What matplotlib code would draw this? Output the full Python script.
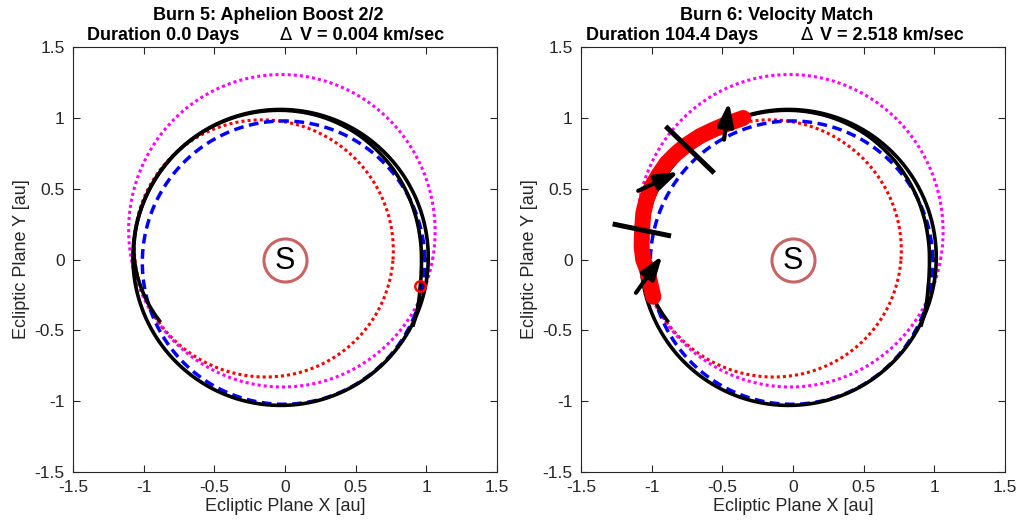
import numpy as np
import matplotlib
matplotlib.use("Agg")
import matplotlib.pyplot as plt

plt.rcParams['font.family'] = ['Liberation Sans', 'DejaVu Sans']

# ---------------- data ----------------
# Keplerian orbits (focus at Sun): semi-major axis a [au], eccentricity e, periapsis direction w [deg]
orbit_names = ['red', 'magenta', 'blue', 'black']
orbit_a = [0.92, 1.103, 1.0, 1.045]
orbit_e = [0.184, 0.185, 0.024, 0.033]
orbit_w = [-27.5, -83.8, 65.6, -25.0]
orbit_colors = ['#FF0000', '#FF00FF', '#0000FF', '#000000']

# spacecraft trajectory arc: radial offset [au] from the black orbit at listed angles [deg]
traj_ang = [-27, -20, -12, -5, 0, 10, 20, 30, 40, 50, 60, 75, 90, 110, 130, 150, 165, 175, 180, 185, 190, 195, 200, 206]
traj_dr = [0.008, -0.012, -0.035, -0.045, -0.048, -0.048, -0.045, -0.040, -0.033, -0.026, -0.018, -0.010,
           -0.006, -0.003, -0.001, 0.0, 0.0, -0.004, -0.010, -0.020, -0.032, -0.046, -0.060, -0.078]

# burn 5 marker
burn5_x, burn5_y = 0.955, -0.188

# burn 6 thrust arc
thrust_x = [-0.988, -1.03, -1.060, -1.071, -1.068, -1.059, -1.035, -1.0, -0.950, -0.894, -0.825, -0.752, -0.66, -0.564, -0.46, -0.352]
thrust_y = [-0.263, -0.08, 0.0, 0.09, 0.21, 0.327, 0.425, 0.515, 0.600, 0.681, 0.75, 0.81, 0.87, 0.916, 0.96, 0.999]

# black bars (start/end markers): x0, y0, x1, y1
bars = [(-1.276, 0.251, -0.863, 0.166), (-0.901, 0.94, -0.557, 0.61)]
# thrust direction arrows: tail x, tail y, tip x, tip y
arrows = [(-1.111, -0.235, -0.925, 0.027), (-1.095, 0.485, -0.807, 0.619), (-0.488, 0.846, -0.453, 1.11)]

titles1 = ['Burn 5: Aphelion Boost 2/2', 'Burn 6: Velocity Match']
durations = ['Duration 0.0 Days', 'Duration 104.4 Days']
dvs = ['V = 0.004 km/sec', 'V = 2.518 km/sec']

ticks = [-1.5, -1, -0.5, 0, 0.5, 1, 1.5]
tick_labels = ['-1.5', '-1', '-0.5', '0', '0.5', '1', '1.5']

# ---------------- figure ----------------
W, H = 1016, 525
fig = plt.figure(figsize=(W / 100, H / 100), dpi=100)
axes_px = [(73, 47, 424, 425), (581, 47, 424, 425)]
TXT = '#262626'


def kepler_r(a, e, w, th):
    return a * (1 - e ** 2) / (1 + e * np.cos(th - np.deg2rad(w)))


styles = {
    'red': dict(ls=(0, (1, 1)), lw=2.2),
    'magenta': dict(ls=(0, (1, 1)), lw=2.2),
    'blue': dict(ls=(0, (2.8, 1.6)), lw=2.5),
    'black': dict(ls='-', lw=2.6),
}

for k, (l, t, w, h) in enumerate(axes_px):
    ax = fig.add_axes([l / W, 1 - (t + h) / H, w / W, h / H])
    th_full = np.linspace(0, 2 * np.pi, 721)
    for name, a, e, wdeg, c in zip(orbit_names, orbit_a, orbit_e, orbit_w, orbit_colors):
        r = kepler_r(a, e, wdeg, th_full)
        ax.plot(r * np.cos(th_full), r * np.sin(th_full), color=c, **styles[name], zorder=2)
    # trajectory arc
    th = np.deg2rad(np.linspace(traj_ang[0], traj_ang[-1], 400))
    dr = np.interp(np.rad2deg(th), traj_ang, traj_dr)
    rt = kepler_r(orbit_a[3], orbit_e[3], orbit_w[3], th) + dr
    ax.plot(rt * np.cos(th), rt * np.sin(th), color='k', lw=2.6, zorder=3)

    # Sun
    ax.plot(0, 0, 'o', ms=31, mfc='white', mec='#C86464', mew=2.2, zorder=5)
    ax.text(0, -0.01, 'S', fontsize=22, ha='center', va='center', color='k', zorder=6)

    if k == 0:
        ax.plot(burn5_x, burn5_y, 'o', ms=7.5, mfc='none', mec='#FF0000', mew=1.8, zorder=6)
    else:
        ax.plot(thrust_x, thrust_y, color='#FF0000', lw=11.5, solid_capstyle='round',
                solid_joinstyle='round', zorder=6)
        for (x0, y0, x1, y1) in bars:
            ax.plot([x0, x1], [y0, y1], color='k', lw=3.6, solid_capstyle='butt', zorder=7)
        for (x0, y0, x1, y1) in arrows:
            ax.annotate('', xy=(x1, y1), xytext=(x0, y0),
                        arrowprops=dict(arrowstyle='-|>,head_length=0.7,head_width=0.24',
                                        lw=3.0, color='k', shrinkA=0, shrinkB=0,
                                        mutation_scale=20),
                        zorder=8)

    ax.set_xlim(-1.5, 1.5)
    ax.set_ylim(-1.5, 1.5)
    ax.set_xticks(ticks)
    ax.set_xticklabels(tick_labels)
    ax.set_yticks(ticks)
    ax.set_yticklabels(tick_labels)
    ax.tick_params(direction='in', top=True, right=True, length=5, width=0.8,
                   labelsize=12.5, colors=TXT, pad=6)
    for sp in ax.spines.values():
        sp.set_color(TXT)
        sp.set_linewidth(0.8)
    ax.set_xlabel('Ecliptic Plane X [au]', fontsize=13, color=TXT, labelpad=2)
    ax.set_ylabel('Ecliptic Plane Y [au]', fontsize=13, color=TXT, labelpad=3)

# titles
title_cx = [268, 776.5]
dur_x = [87, 586]
delta_x = [280, 801]
dv_x = [300, 820]
for k in range(2):
    fig.text(title_cx[k] / W, 1 - 20 / H, titles1[k], ha='center', va='baseline',
             fontsize=13, fontweight='bold')
    fig.text(dur_x[k] / W, 1 - 40 / H, durations[k], ha='left', va='baseline',
             fontsize=13, fontweight='bold')
    fig.text(delta_x[k] / W, 1 - 40 / H, '\u0394', ha='left', va='baseline',
             fontsize=13, fontweight='normal', family=['DejaVu Sans'])
    fig.text(dv_x[k] / W, 1 - 40 / H, dvs[k], ha='left', va='baseline',
             fontsize=13, fontweight='bold')

fig.savefig('out.png', dpi=100)
